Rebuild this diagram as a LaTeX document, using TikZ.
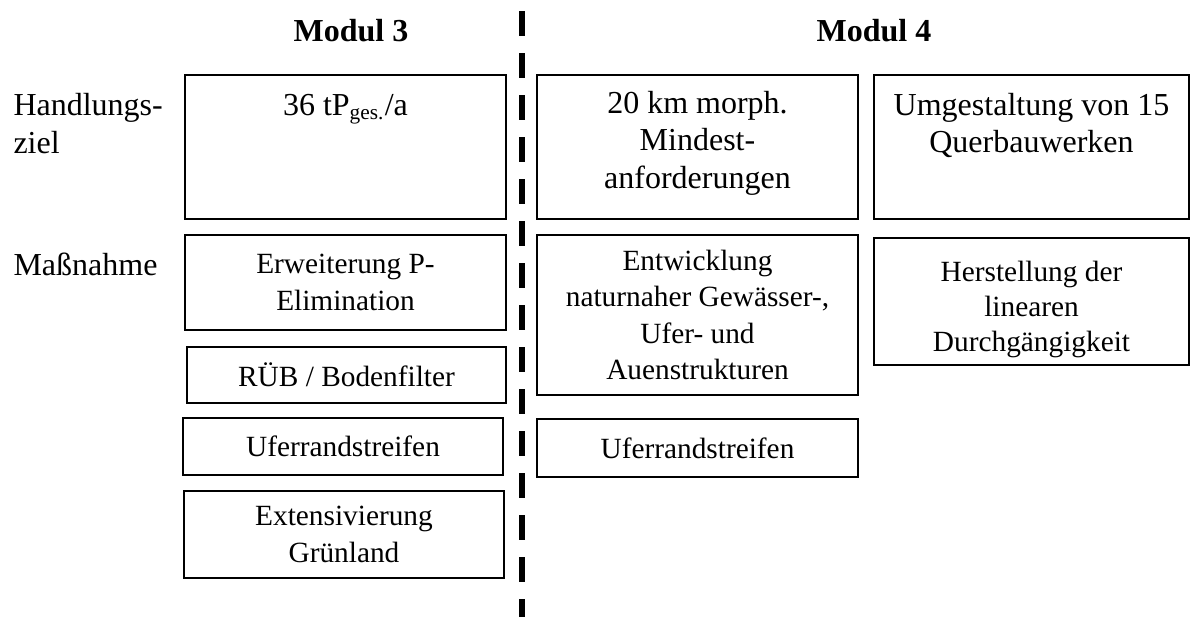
\documentclass[tikz,border=0pt]{standalone}
\usepackage{fontspec}
\setmainfont{Liberation Serif}
\usetikzlibrary{calc}
\tikzset{
  px/.style 2 args={minimum width=#1*0.375pt, minimum height=#2*0.375pt},
  box/.style={draw, line width=0.5pt, inner sep=0pt, align=center, font=\fontsize{11}{13.7}\selectfont},
  plainbox/.style={draw, line width=0.5pt, inner sep=0pt},
  boxtext/.style={inner sep=0pt, align=center, font=\fontsize{11}{13.3}\selectfont},
  goaltext/.style={anchor=north, inner sep=0pt, align=center, font=\fontsize{12}{14.1}\selectfont},
  rowlabel/.style={inner sep=0pt, align=left, font=\fontsize{12}{14.2}\selectfont},
  head/.style={anchor=base, inner sep=0pt, font=\fontsize{12}{14}\selectfont\bfseries},
  sepline/.style={line width=2.25pt, dash pattern=on 9.375pt off 6.375pt}
}
\begin{document}
\begin{tikzpicture}[x=0.375pt,y=-0.375pt]
\useasboundingbox (0,0) rectangle (1192,616);
% headers
\node[head] (m3) at (351,41) {Modul 3};
\node[head] (m4) at (874,41) {Modul 4};
% separator
\coordinate (septop) at (522,11);
\coordinate (sepbot) at (522,640);
\draw[sepline] (septop) -- (sepbot);
% row labels
\node[rowlabel, anchor=north west] (hz) at (13,93) {Handlungs-\\ziel};
\node[rowlabel, anchor=base west] (mn) at (13,275) {Maßnahme};
% goal row
\node[plainbox, px={321}{144}] (A) at (345.5,147) {};
\node[goaltext] (At) at ($(A.north)+(0,19)$) {36 tP\textsubscript{ges.}/a};
\node[plainbox, px={321}{144}] (B) at (697.5,147) {};
\node[goaltext] (Bt) at ($(B.north)+(0,16)$) {20 km morph.\\Mindest-\\anforderungen};
\node[plainbox, px={315}{144}] (C) at (1031.5,147) {};
\node[goaltext] (Ct) at ($(C.north)+(0,18)$) {Umgestaltung von 15\\Querbauwerken};
% measures Modul 3
\node[box, px={321}{95}] (m3a) at (345.5,282.5) {Erweiterung P-\\Elimination};
\node[box, px={319}{56}] (m3b) at (346.5,375) {RÜB / Bodenfilter};
\node[box, px={320}{57}] (m3c) at (343,446.5) {Uferrandstreifen};
\node[box, px={320}{87}] (m3d) at (344,534.5) {Extensivierung\\Grünland};
% measures Modul 4
\node[box, px={321}{160}] (m4a) at (697.5,315) {Entwicklung\\naturnaher Gewässer-,\\Ufer- und\\Auenstrukturen};
\node[plainbox, px={315}{127}] (m4b) at (1031.5,301.5) {};
\node[boxtext] (m4bt) at ($(m4b.center)+(0,8)$) {Herstellung der\\linearen\\Durchgängigkeit};
\node[box, px={321}{58}] (m4c) at (697.5,448) {Uferrandstreifen};
\end{tikzpicture}
\end{document}
